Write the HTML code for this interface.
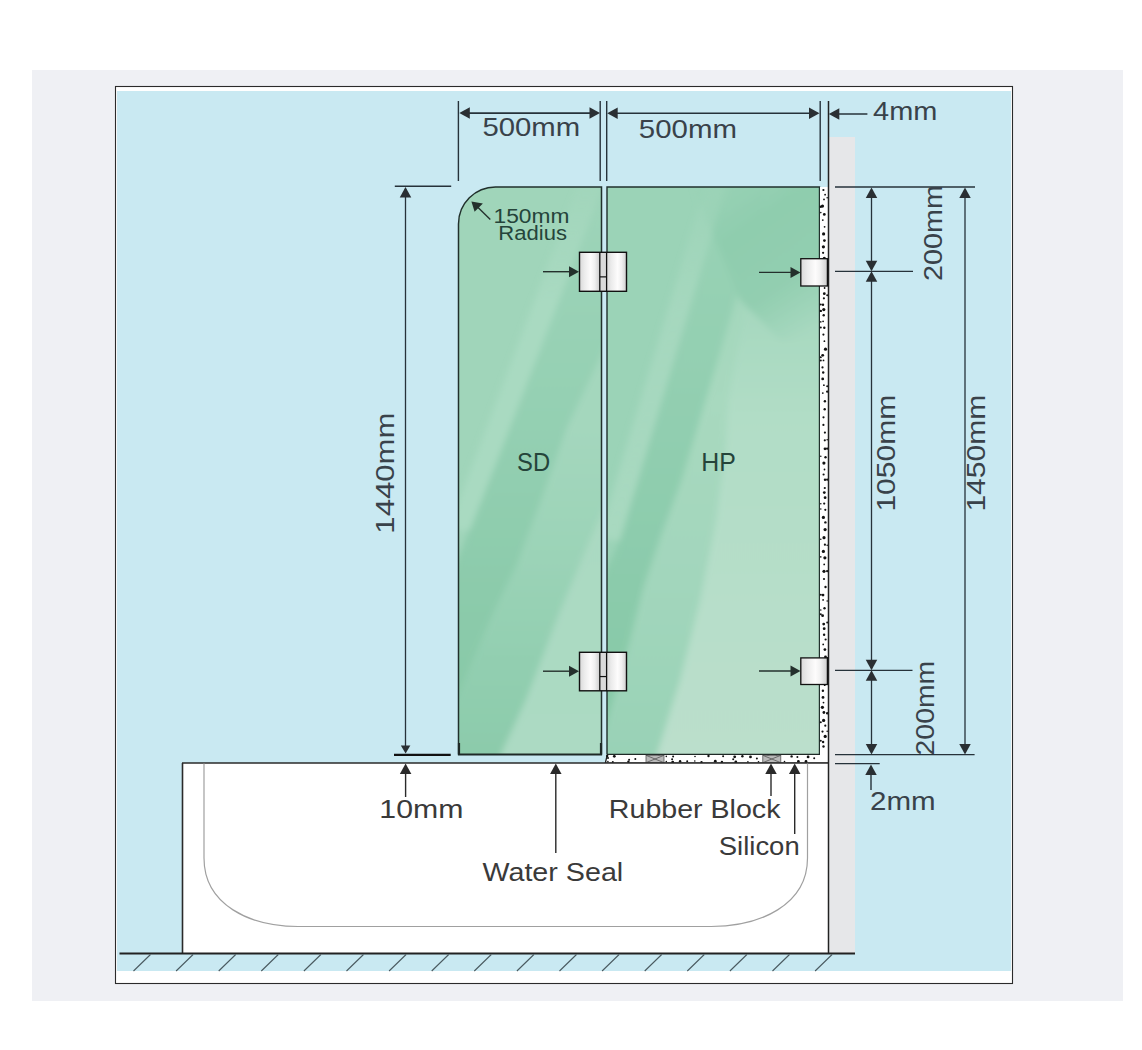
<!DOCTYPE html>
<html><head><meta charset="utf-8"><title>Bath screen diagram</title>
<style>
html,body{margin:0;padding:0;background:#fff;width:1142px;height:1050px;overflow:hidden;}
svg{display:block;}
text{font-family:"Liberation Sans",sans-serif;}
</style></head><body>
<svg width="1142" height="1050" viewBox="0 0 1142 1050">

<defs>
 <filter id="blur2" x="-20%" y="-20%" width="140%" height="140%"><feGaussianBlur stdDeviation="3"/></filter>
 <filter id="blur6" x="-20%" y="-20%" width="140%" height="140%"><feGaussianBlur stdDeviation="6"/></filter>
 <linearGradient id="hinge" x1="0" y1="0" x2="1" y2="0">
  <stop offset="0" stop-color="#d9d9d9"/>
  <stop offset="0.25" stop-color="#ececec"/>
  <stop offset="0.55" stop-color="#fdfcfc"/>
  <stop offset="0.75" stop-color="#f0f0f0"/>
  <stop offset="1" stop-color="#cdcdcd"/>
 </linearGradient>
 <clipPath id="clipsd"><path d="M458.5,754.5 L458.5,224 A37,37 0 0 1 495.5,187 L601.5,187 L601.5,754.5 Z"/></clipPath>
 <clipPath id="cliphp"><rect x="607" y="187" width="213" height="567.5"/></clipPath>
</defs>

<rect x="0" y="0" width="1142" height="1050" fill="#ffffff"/>
<rect x="32" y="70" width="1091" height="931" fill="#eff0f4"/>
<rect x="115.5" y="86.5" width="897" height="897" fill="#ffffff" stroke="#2b2b2b" stroke-width="1.1"/>
<rect x="117" y="91" width="894" height="880" fill="#c9e9f2"/>
<rect x="829" y="137" width="26" height="816" fill="#e6e7e9"/>
<path d="M458.5,754.5 L458.5,224 A37,37 0 0 1 495.5,187 L601.5,187 L601.5,754.5 Z" fill="#a0d5ba"/>
<rect x="607" y="187" width="213" height="567.5" fill="#9bd3b7"/>
<defs><linearGradient id="sdd" gradientUnits="userSpaceOnUse" x1="0" y1="187" x2="0" y2="754"><stop offset="0" stop-color="#9ed4b9"/><stop offset="0.38" stop-color="#95d0b3"/><stop offset="0.72" stop-color="#8ccbab"/><stop offset="1" stop-color="#86c8a6"/></linearGradient><linearGradient id="sdl" gradientUnits="userSpaceOnUse" x1="0" y1="330" x2="0" y2="754"><stop offset="0" stop-color="#a6d8be"/><stop offset="0.28" stop-color="#aad9c1"/><stop offset="1" stop-color="#acdac3"/></linearGradient><linearGradient id="hpd" gradientUnits="userSpaceOnUse" x1="0" y1="187" x2="0" y2="754"><stop offset="0" stop-color="#99d2b6"/><stop offset="0.34" stop-color="#91ceb0"/><stop offset="0.73" stop-color="#89caa8"/><stop offset="1" stop-color="#84c7a4"/></linearGradient><linearGradient id="hpl" gradientUnits="userSpaceOnUse" x1="0" y1="270" x2="0" y2="754"><stop offset="0" stop-color="#a2d6bc"/><stop offset="0.3" stop-color="#b1ddc6"/><stop offset="1" stop-color="#bbdfcc"/></linearGradient><linearGradient id="hpur" gradientUnits="userSpaceOnUse" x1="690" y1="187" x2="800" y2="340"><stop offset="0" stop-color="#93cfb1" stop-opacity="0"/><stop offset="0.35" stop-color="#8fcdae"/><stop offset="0.7" stop-color="#92ceb0"/><stop offset="1" stop-color="#94cfb2" stop-opacity="0"/></linearGradient><linearGradient id="sdls" gradientUnits="userSpaceOnUse" x1="0" y1="187" x2="0" y2="530"><stop offset="0" stop-color="#a9dac1" stop-opacity="0.2"/><stop offset="0.35" stop-color="#a9dac1"/><stop offset="1" stop-color="#a9dac1"/></linearGradient></defs>
<defs><linearGradient id="sdm" gradientUnits="userSpaceOnUse" x1="0" y1="430" x2="0" y2="754"><stop offset="0" stop-color="#a4d7bd"/><stop offset="0.4" stop-color="#9bd3b7"/><stop offset="0.68" stop-color="#93cfb1"/><stop offset="1" stop-color="#8ccbab"/></linearGradient><linearGradient id="hpm" gradientUnits="userSpaceOnUse" x1="0" y1="187" x2="0" y2="754"><stop offset="0" stop-color="#9fd5ba"/><stop offset="0.38" stop-color="#a8d9bf"/><stop offset="0.7" stop-color="#a2d6bc"/><stop offset="1" stop-color="#99d2b6"/></linearGradient><linearGradient id="hpd2" gradientUnits="userSpaceOnUse" x1="0" y1="187" x2="0" y2="754"><stop offset="0" stop-color="#99d2b6"/><stop offset="0.34" stop-color="#93cfb1"/><stop offset="0.62" stop-color="#8dccad"/><stop offset="1" stop-color="#85c8a5"/></linearGradient><linearGradient id="hpls" gradientUnits="userSpaceOnUse" x1="0" y1="187" x2="0" y2="540"><stop offset="0" stop-color="#a8d9c0" stop-opacity="0.15"/><stop offset="0.35" stop-color="#a8d9c0" stop-opacity="0.8"/><stop offset="1" stop-color="#a8d9c0"/></linearGradient></defs>
<g clip-path="url(#clipsd)"><g filter="url(#blur2)"><polygon points="604,180 684,180 566,430 542,498 516,567 495.6,608.6 475.8,654 440,740 440,600 461,550 482,498 509,430" fill="url(#sdd)"/><polygon points="684,180 566,430 542,498 516,567 495.6,608.6 475.8,654 440,740 440,765 498,765 502,752 526,700 561,609 590,540 620,470 650,400 700,300 720,180" fill="url(#sdm)"/><polygon points="650,400 620,470 590,540 561,609 526,700 502,752 498,765 700,765 700,400" fill="url(#sdl)"/><polygon points="580,180 606,180 470,530 448,530" fill="url(#sdls)"/></g></g>
<g clip-path="url(#cliphp)"><g filter="url(#blur2)"><polygon points="790,187 745,310 728,400 725,450 716,520 700,600 680,680 655,760 830,760 830,187" fill="url(#hpl)"/><polygon points="770,180 792,180 745,310 728,400 725,450 716,520 700,600 680,680 655,760 596,760 630,640 643.6,586.7 662,533 681.7,480 711.7,380 732.7,310" fill="url(#hpm)"/><polygon points="728,180 770,180 732.7,310 711.7,380 681.7,480 662,533 643.6,586.7 630,640 596,760 600,760 600,583 620,540" fill="url(#hpd2)"/><polygon points="690,180 825,180 825,340 780,340 740,300" fill="url(#hpur)"/><polygon points="707,180 728,180 620,540 598,540" fill="url(#hpls)"/></g></g>
<path d="M458.5,754.5 L458.5,224 A37,37 0 0 1 495.5,187 L601.5,187 L601.5,754.5" fill="none" stroke="#21302c" stroke-width="1.5"/>
<path d="M607,754.5 L607,187 L819.5,187 L819.5,754.5" fill="none" stroke="#21302c" stroke-width="1.4"/>
<path d="M459,743 L459,754.5 L601,754.5 L601,743" fill="none" stroke="#1f2a27" stroke-width="2.2"/>
<line x1="607" y1="754.5" x2="820" y2="754.5" stroke="#1f2a27" stroke-width="1.5"/>
<rect x="820" y="187" width="8" height="576" fill="#ffffff"/>
<polygon points="607,755 828,755 828,763 605,763" fill="#ffffff"/>
<line x1="605.5" y1="763.2" x2="829" y2="763.2" stroke="#1a1a1a" stroke-width="1.5"/>
<line x1="607.3" y1="754.8" x2="605.3" y2="763.2" stroke="#1a1a1a" stroke-width="1.3"/>
<g fill="#111"><circle cx="823.4" cy="190.0" r="1.1"/><circle cx="825.1" cy="194.7" r="0.9"/><circle cx="824.0" cy="199.4" r="0.9"/><circle cx="827.2" cy="197.7" r="0.8"/><circle cx="822.5" cy="206.1" r="1.6"/><circle cx="820.8" cy="206.7" r="1.2"/><circle cx="824.3" cy="214.4" r="1.4"/><circle cx="820.8" cy="212.6" r="0.8"/><circle cx="822.8" cy="220.1" r="0.9"/><circle cx="824.6" cy="226.8" r="0.9"/><circle cx="823.6" cy="233.9" r="1.6"/><circle cx="824.4" cy="240.6" r="1.4"/><circle cx="823.4" cy="246.8" r="1.6"/><circle cx="823.1" cy="252.8" r="1.1"/><circle cx="824.3" cy="258.3" r="1.6"/><circle cx="823.8" cy="264.1" r="1.6"/><circle cx="823.7" cy="269.1" r="1.2"/><circle cx="827.2" cy="268.8" r="1.2"/><circle cx="824.2" cy="273.9" r="1.2"/><circle cx="827.2" cy="274.3" r="1.2"/><circle cx="822.5" cy="281.6" r="0.9"/><circle cx="824.6" cy="288.0" r="0.9"/><circle cx="824.3" cy="293.7" r="1.4"/><circle cx="827.2" cy="295.3" r="1.0"/><circle cx="823.9" cy="298.3" r="1.1"/><circle cx="823.0" cy="304.8" r="1.2"/><circle cx="820.8" cy="304.4" r="1.0"/><circle cx="823.8" cy="309.6" r="1.6"/><circle cx="820.8" cy="310.9" r="1.2"/><circle cx="823.7" cy="315.2" r="1.2"/><circle cx="823.1" cy="321.3" r="0.9"/><circle cx="820.8" cy="321.9" r="0.8"/><circle cx="824.3" cy="327.7" r="1.2"/><circle cx="820.8" cy="327.4" r="1.0"/><circle cx="823.4" cy="334.6" r="1.1"/><circle cx="824.4" cy="341.2" r="0.9"/><circle cx="825.5" cy="349.2" r="1.6"/><circle cx="822.7" cy="355.3" r="1.4"/><circle cx="820.8" cy="357.2" r="1.0"/><circle cx="823.5" cy="360.4" r="0.9"/><circle cx="820.8" cy="360.6" r="1.0"/><circle cx="822.5" cy="367.4" r="1.1"/><circle cx="823.2" cy="372.5" r="1.2"/><circle cx="822.7" cy="378.9" r="1.4"/><circle cx="823.9" cy="385.2" r="0.9"/><circle cx="827.2" cy="386.2" r="1.0"/><circle cx="822.8" cy="393.1" r="0.9"/><circle cx="827.2" cy="391.6" r="1.2"/><circle cx="824.9" cy="401.2" r="1.2"/><circle cx="824.7" cy="409.2" r="1.2"/><circle cx="823.5" cy="417.3" r="1.1"/><circle cx="823.4" cy="424.9" r="1.1"/><circle cx="824.9" cy="432.6" r="1.1"/><circle cx="824.8" cy="440.3" r="1.1"/><circle cx="827.2" cy="439.8" r="0.8"/><circle cx="825.0" cy="448.8" r="1.4"/><circle cx="827.2" cy="448.6" r="1.2"/><circle cx="825.5" cy="457.3" r="1.2"/><circle cx="820.8" cy="456.2" r="0.8"/><circle cx="823.9" cy="463.1" r="1.6"/><circle cx="824.5" cy="469.5" r="0.9"/><circle cx="823.6" cy="474.5" r="1.1"/><circle cx="825.0" cy="479.7" r="1.2"/><circle cx="827.2" cy="479.6" r="1.2"/><circle cx="824.8" cy="488.0" r="1.1"/><circle cx="824.3" cy="492.6" r="1.4"/><circle cx="825.1" cy="497.7" r="1.4"/><circle cx="824.2" cy="503.6" r="1.1"/><circle cx="820.8" cy="503.7" r="0.8"/><circle cx="825.3" cy="509.8" r="1.1"/><circle cx="820.8" cy="509.0" r="0.8"/><circle cx="823.4" cy="517.4" r="1.6"/><circle cx="825.4" cy="522.4" r="1.2"/><circle cx="825.1" cy="529.6" r="1.6"/><circle cx="824.0" cy="537.7" r="1.6"/><circle cx="820.8" cy="539.2" r="0.8"/><circle cx="824.9" cy="544.7" r="1.1"/><circle cx="827.2" cy="545.2" r="0.8"/><circle cx="823.4" cy="551.4" r="1.6"/><circle cx="824.9" cy="557.8" r="1.6"/><circle cx="820.8" cy="556.9" r="0.8"/><circle cx="824.2" cy="564.4" r="0.9"/><circle cx="824.0" cy="571.3" r="1.6"/><circle cx="827.2" cy="571.1" r="1.2"/><circle cx="824.0" cy="579.0" r="1.1"/><circle cx="825.5" cy="587.0" r="1.2"/><circle cx="823.0" cy="595.1" r="1.4"/><circle cx="820.8" cy="594.7" r="1.0"/><circle cx="823.1" cy="599.9" r="0.9"/><circle cx="827.2" cy="601.0" r="0.8"/><circle cx="824.5" cy="608.2" r="1.2"/><circle cx="820.8" cy="610.0" r="0.8"/><circle cx="822.6" cy="615.7" r="1.4"/><circle cx="820.8" cy="614.3" r="1.0"/><circle cx="823.7" cy="624.1" r="1.4"/><circle cx="827.2" cy="622.5" r="1.0"/><circle cx="824.2" cy="628.7" r="1.4"/><circle cx="824.1" cy="634.7" r="1.2"/><circle cx="825.6" cy="639.5" r="1.1"/><circle cx="823.2" cy="644.4" r="0.9"/><circle cx="824.9" cy="649.6" r="1.4"/><circle cx="825.5" cy="656.9" r="1.4"/><circle cx="827.2" cy="657.7" r="0.8"/><circle cx="825.0" cy="662.5" r="1.1"/><circle cx="825.5" cy="667.3" r="0.9"/><circle cx="825.2" cy="672.1" r="0.9"/><circle cx="820.8" cy="671.9" r="1.0"/><circle cx="823.7" cy="680.6" r="1.2"/><circle cx="824.7" cy="685.2" r="0.9"/><circle cx="822.9" cy="690.8" r="1.2"/><circle cx="823.0" cy="697.4" r="1.4"/><circle cx="823.5" cy="702.6" r="0.9"/><circle cx="822.4" cy="707.3" r="1.6"/><circle cx="823.9" cy="712.5" r="1.4"/><circle cx="827.2" cy="713.2" r="1.2"/><circle cx="823.6" cy="720.4" r="1.6"/><circle cx="820.8" cy="722.3" r="1.0"/><circle cx="825.3" cy="725.7" r="1.1"/><circle cx="822.5" cy="731.6" r="1.1"/><circle cx="827.2" cy="731.3" r="0.8"/><circle cx="825.2" cy="736.4" r="1.6"/><circle cx="823.1" cy="742.0" r="1.2"/><circle cx="820.8" cy="740.7" r="1.0"/><circle cx="823.5" cy="746.5" r="1.2"/><circle cx="607.2" cy="756.0" r="1.2"/><circle cx="607.9" cy="761.6" r="0.8"/><circle cx="608.0" cy="758.0" r="1.0"/><circle cx="614.3" cy="756.3" r="1.4"/><circle cx="612.8" cy="762.1" r="1.0"/><circle cx="628.4" cy="761.8" r="1.2"/><circle cx="629.1" cy="759.8" r="1.0"/><circle cx="635.3" cy="759.0" r="1.0"/><circle cx="650.3" cy="758.3" r="1.0"/><circle cx="658.8" cy="756.6" r="1.4"/><circle cx="666.3" cy="756.4" r="0.8"/><circle cx="666.3" cy="761.6" r="0.8"/><circle cx="673.1" cy="756.6" r="1.0"/><circle cx="672.7" cy="762.1" r="1.4"/><circle cx="672.1" cy="759.3" r="1.0"/><circle cx="680.1" cy="761.2" r="1.2"/><circle cx="687.2" cy="761.3" r="1.0"/><circle cx="695.0" cy="756.5" r="0.8"/><circle cx="694.8" cy="761.0" r="0.8"/><circle cx="701.5" cy="762.1" r="1.2"/><circle cx="708.5" cy="756.0" r="1.2"/><circle cx="715.3" cy="761.2" r="1.4"/><circle cx="723.1" cy="756.3" r="1.0"/><circle cx="721.9" cy="761.9" r="1.2"/><circle cx="734.7" cy="756.8" r="1.4"/><circle cx="735.8" cy="762.0" r="1.4"/><circle cx="733.2" cy="759.3" r="1.0"/><circle cx="742.4" cy="756.2" r="1.2"/><circle cx="750.5" cy="756.9" r="1.4"/><circle cx="747.9" cy="761.9" r="0.8"/><circle cx="758.5" cy="761.7" r="0.8"/><circle cx="756.9" cy="758.6" r="1.0"/><circle cx="768.1" cy="756.6" r="1.4"/><circle cx="769.4" cy="761.5" r="1.4"/><circle cx="776.5" cy="756.0" r="1.0"/><circle cx="784.5" cy="761.5" r="0.8"/><circle cx="791.6" cy="756.4" r="1.2"/><circle cx="797.4" cy="756.9" r="1.0"/><circle cx="798.4" cy="761.4" r="1.4"/><circle cx="808.1" cy="756.9" r="1.4"/><circle cx="806.0" cy="761.5" r="1.4"/><circle cx="814.2" cy="758.3" r="1.0"/></g>
<rect x="646.0" y="755.3" width="18" height="7.4" fill="#b9b9b9" stroke="#555" stroke-width="0.8"/>
<path d="M646.0,755.3 L664.0,762.7 M664.0,755.3 L646.0,762.7" stroke="#555" stroke-width="0.8"/>
<rect x="762.8" y="755.3" width="18" height="7.4" fill="#b9b9b9" stroke="#555" stroke-width="0.8"/>
<path d="M762.8,755.3 L780.8,762.7 M780.8,755.3 L762.8,762.7" stroke="#555" stroke-width="0.8"/>
<rect x="182.5" y="763" width="646" height="190.5" fill="#ffffff"/>
<line x1="182.5" y1="763" x2="182.5" y2="953.5" stroke="#2a2a2a" stroke-width="1.6"/>
<line x1="182" y1="763" x2="829" y2="763" stroke="#2a2a2a" stroke-width="1.5"/>
<path d="M204,763.5 L204,858 C204,905 250,926.5 298,926.5 L711,926.5 C760,926.5 807.5,905 807.5,858 L807.5,763.5" fill="none" stroke="#a0a0a0" stroke-width="1.2"/>
<line x1="828.5" y1="101" x2="828.5" y2="953.5" stroke="#222" stroke-width="1.5"/>
<line x1="119.5" y1="953.5" x2="855" y2="953.5" stroke="#222" stroke-width="1.8"/>
<path d="M150.5,954.5 L133.5,971 M193.1,954.5 L176.1,971 M235.7,954.5 L218.7,971 M278.3,954.5 L261.3,971 M320.9,954.5 L303.9,971 M363.5,954.5 L346.5,971 M406.1,954.5 L389.1,971 M448.7,954.5 L431.7,971 M491.3,954.5 L474.3,971 M533.9,954.5 L516.9,971 M576.5,954.5 L559.5,971 M619.1,954.5 L602.1,971 M661.7,954.5 L644.7,971 M704.3,954.5 L687.3,971 M746.9,954.5 L729.9,971 M789.5,954.5 L772.5,971 M832.1,954.5 L815.1,971" stroke="#4a5a60" stroke-width="1.1" fill="none"/>
<rect x="579.5" y="252.3" width="20.3" height="39.0" fill="url(#hinge)"/><rect x="606.6" y="252.3" width="20" height="39.0" fill="url(#hinge)"/><rect x="599.8" y="252.3" width="6.8" height="39.0" fill="#dadada"/><rect x="579.5" y="252.3" width="47" height="39.0" fill="none" stroke="#111" stroke-width="1.4"/><line x1="599.8" y1="252.3" x2="599.8" y2="291.3" stroke="#111" stroke-width="1.3"/><line x1="606.6" y1="252.3" x2="606.6" y2="291.3" stroke="#111" stroke-width="1.3"/><line x1="600" y1="276.87" x2="606.5" y2="276.87" stroke="#111" stroke-width="1.2"/>
<rect x="579.5" y="652.3" width="20.3" height="38.5" fill="url(#hinge)"/><rect x="606.6" y="652.3" width="20" height="38.5" fill="url(#hinge)"/><rect x="599.8" y="652.3" width="6.8" height="38.5" fill="#dadada"/><rect x="579.5" y="652.3" width="47" height="38.5" fill="none" stroke="#111" stroke-width="1.4"/><line x1="599.8" y1="652.3" x2="599.8" y2="690.8" stroke="#111" stroke-width="1.3"/><line x1="606.6" y1="652.3" x2="606.6" y2="690.8" stroke="#111" stroke-width="1.3"/><line x1="600" y1="676.555" x2="606.5" y2="676.555" stroke="#111" stroke-width="1.2"/>
<rect x="800.8" y="258.7" width="26.6" height="27.3" fill="url(#hinge)" stroke="#111" stroke-width="1.3"/>
<rect x="800.8" y="657.9" width="26.6" height="26.6" fill="url(#hinge)" stroke="#111" stroke-width="1.3"/>
<line x1="543" y1="271.7" x2="573" y2="271.7" stroke="#24302c" stroke-width="1.4"/>
<polygon points="579.00,271.70 569.00,266.20 569.00,277.20" fill="#24302c"/>
<line x1="543" y1="671.2" x2="573" y2="671.2" stroke="#24302c" stroke-width="1.4"/>
<polygon points="579.00,671.20 569.00,665.70 569.00,676.70" fill="#24302c"/>
<line x1="759" y1="272.4" x2="794.5" y2="272.4" stroke="#24302c" stroke-width="1.4"/>
<polygon points="800.50,272.40 790.50,266.90 790.50,277.90" fill="#24302c"/>
<line x1="759" y1="671" x2="794.5" y2="671" stroke="#24302c" stroke-width="1.4"/>
<polygon points="800.50,671.00 790.50,665.50 790.50,676.50" fill="#24302c"/>
<line x1="490.3" y1="219.4" x2="476" y2="205.5" stroke="#24302c" stroke-width="1.4"/>
<polygon points="471.4,201.4 482.9,203.4 474.6,211.7" fill="#24302c"/>
<line x1="458.4" y1="101" x2="458.4" y2="181" stroke="#26323a" stroke-width="1.4"/>
<line x1="600.2" y1="101" x2="600.2" y2="181" stroke="#26323a" stroke-width="1.4"/>
<line x1="606.7" y1="101" x2="606.7" y2="181" stroke="#26323a" stroke-width="1.4"/>
<line x1="820.2" y1="101" x2="820.2" y2="181" stroke="#26323a" stroke-width="1.4"/>
<line x1="461.3" y1="113.1" x2="598" y2="113.1" stroke="#26323a" stroke-width="1.6"/><polygon points="459.30,113.10 469.80,107.35 469.80,118.85" fill="#2a2f33"/><polygon points="600.00,113.10 589.50,107.35 589.50,118.85" fill="#2a2f33"/>
<line x1="609.2" y1="113.3" x2="817.5" y2="113.3" stroke="#26323a" stroke-width="1.6"/><polygon points="607.20,113.30 617.70,107.55 617.70,119.05" fill="#2a2f33"/><polygon points="819.50,113.30 809.00,107.55 809.00,119.05" fill="#2a2f33"/>
<line x1="832" y1="114" x2="867.4" y2="114" stroke="#26323a" stroke-width="1.6"/>
<polygon points="828.80,114.00 839.30,108.25 839.30,119.75" fill="#2a2f33"/>
<line x1="394.8" y1="186.3" x2="451.2" y2="186.3" stroke="#26323a" stroke-width="1.4"/>
<line x1="405.5" y1="189" x2="405.5" y2="748" stroke="#26323a" stroke-width="1.3"/>
<polygon points="405.50,186.90 399.75,197.40 411.25,197.40" fill="#2a2f33"/>
<polygon points="405.60,753.50 400.85,745.50 410.35,745.50" fill="#2a2f33"/>
<line x1="394" y1="754.8" x2="450.7" y2="754.8" stroke="#111" stroke-width="2.2"/>
<line x1="835" y1="187" x2="975" y2="187" stroke="#26323a" stroke-width="1.3"/>
<line x1="835" y1="271.3" x2="913" y2="271.3" stroke="#26323a" stroke-width="1.3"/>
<line x1="835" y1="670.3" x2="912.5" y2="670.3" stroke="#26323a" stroke-width="1.3"/>
<line x1="835" y1="754.6" x2="974.6" y2="754.6" stroke="#26323a" stroke-width="1.3"/>
<line x1="835" y1="763.7" x2="879.7" y2="763.7" stroke="#26323a" stroke-width="1.3"/>
<line x1="871.5" y1="189.5" x2="871.5" y2="269.3" stroke="#26323a" stroke-width="1.3"/><polygon points="871.50,187.50 865.75,198.00 877.25,198.00" fill="#2a2f33"/><polygon points="871.50,271.30 865.75,260.80 877.25,260.80" fill="#2a2f33"/>
<line x1="871.5" y1="273.3" x2="871.5" y2="668.3" stroke="#26323a" stroke-width="1.3"/><polygon points="871.50,271.30 865.75,281.80 877.25,281.80" fill="#2a2f33"/><polygon points="871.50,670.30 865.75,659.80 877.25,659.80" fill="#2a2f33"/>
<line x1="871.5" y1="672.3" x2="871.5" y2="752.6" stroke="#26323a" stroke-width="1.3"/><polygon points="871.50,670.30 865.75,680.80 877.25,680.80" fill="#2a2f33"/><polygon points="871.50,754.60 865.75,744.10 877.25,744.10" fill="#2a2f33"/>
<line x1="965" y1="189.5" x2="965" y2="752.6" stroke="#26323a" stroke-width="1.3"/><polygon points="965.00,187.50 959.25,198.00 970.75,198.00" fill="#2a2f33"/><polygon points="965.00,754.60 959.25,744.10 970.75,744.10" fill="#2a2f33"/>
<line x1="871" y1="768" x2="871" y2="790" stroke="#26323a" stroke-width="1.4"/>
<polygon points="871.00,764.50 865.25,775.00 876.75,775.00" fill="#2a2f33"/>
<line x1="405.6" y1="767" x2="405.6" y2="797" stroke="#2a2a2a" stroke-width="1.4"/>
<polygon points="405.60,763.50 399.85,774.00 411.35,774.00" fill="#2a2a2a"/>
<line x1="555.8" y1="767" x2="555.8" y2="853" stroke="#2a2a2a" stroke-width="1.4"/>
<polygon points="555.80,763.50 550.05,774.00 561.55,774.00" fill="#2a2a2a"/>
<line x1="771" y1="767" x2="771" y2="796" stroke="#2a2a2a" stroke-width="1.4"/>
<polygon points="771.00,763.50 765.25,774.00 776.75,774.00" fill="#2a2a2a"/>
<line x1="794.7" y1="767" x2="794.7" y2="834" stroke="#2a2a2a" stroke-width="1.4"/>
<polygon points="794.70,763.50 788.95,774.00 800.45,774.00" fill="#2a2a2a"/>
<text x="482.43" y="135.70" font-size="26.50" fill="#39424a" textLength="97.70" lengthAdjust="spacingAndGlyphs">500mm</text>
<text x="638.82" y="138.30" font-size="26.00" fill="#39424a" textLength="98.12" lengthAdjust="spacingAndGlyphs">500mm</text>
<text x="873.14" y="119.60" font-size="26.50" fill="#39424a" textLength="64.27" lengthAdjust="spacingAndGlyphs">4mm</text>
<text x="493.57" y="223.40" font-size="20.50" fill="#25443a" textLength="75.83" lengthAdjust="spacingAndGlyphs">150mm</text>
<text x="498.39" y="240.30" font-size="20.00" fill="#25443a" textLength="68.60" lengthAdjust="spacingAndGlyphs">Radius</text>
<text x="517.12" y="471.40" font-size="26.50" fill="#25443a" textLength="33.02" lengthAdjust="spacingAndGlyphs">SD</text>
<text x="701.26" y="471.40" font-size="26.50" fill="#25443a" textLength="34.55" lengthAdjust="spacingAndGlyphs">HP</text>
<text transform="translate(393.70,531.30) rotate(-90)" x="-2.37" y="0" font-size="26.50" fill="#39424a" textLength="121.02" lengthAdjust="spacingAndGlyphs">1440mm</text>
<text transform="translate(895.00,509.30) rotate(-90)" x="-2.29" y="0" font-size="26.50" fill="#39424a" textLength="116.87" lengthAdjust="spacingAndGlyphs">1050mm</text>
<text transform="translate(984.70,509.30) rotate(-90)" x="-2.29" y="0" font-size="26.50" fill="#39424a" textLength="116.87" lengthAdjust="spacingAndGlyphs">1450mm</text>
<text transform="translate(941.90,279.50) rotate(-90)" x="-1.45" y="0" font-size="26.50" fill="#39424a" textLength="96.05" lengthAdjust="spacingAndGlyphs">200mm</text>
<text transform="translate(934.00,754.00) rotate(-90)" x="-1.43" y="0" font-size="26.50" fill="#39424a" textLength="94.70" lengthAdjust="spacingAndGlyphs">200mm</text>
<text x="870.01" y="809.70" font-size="26.50" fill="#39424a" textLength="65.63" lengthAdjust="spacingAndGlyphs">2mm</text>
<text x="379.39" y="817.80" font-size="26.50" fill="#3a3a3a" textLength="84.10" lengthAdjust="spacingAndGlyphs">10mm</text>
<text x="608.86" y="817.70" font-size="25.00" fill="#3a3a3a" textLength="171.60" lengthAdjust="spacingAndGlyphs">Rubber Block</text>
<text x="718.75" y="854.60" font-size="26.00" fill="#3a3a3a" textLength="80.93" lengthAdjust="spacingAndGlyphs">Silicon</text>
<text x="482.47" y="880.70" font-size="26.00" fill="#3a3a3a" textLength="140.73" lengthAdjust="spacingAndGlyphs">Water Seal</text>
</svg>
</body></html>
